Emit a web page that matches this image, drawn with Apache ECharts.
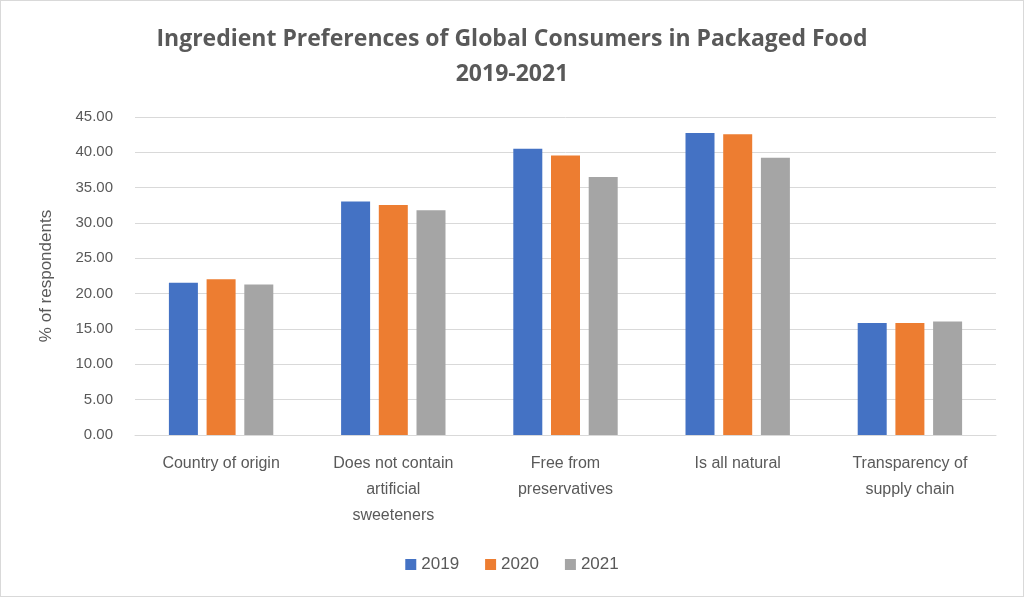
<!DOCTYPE html>
<html><head><meta charset="utf-8">
<script src="https://cdn.jsdelivr.net/npm/echarts@6/dist/echarts.min.js"></script>
<style>html,body{margin:0;padding:0;background:#fff}#c{width:1024px;height:597px;box-sizing:border-box;border:1px solid #d9d9d9}</style>
</head><body><div id="c"></div>
<script>
const categories = ["Country of origin", "Does not contain\nartificial\nsweeteners", "Free from\npreservatives", "Is all natural", "Transparency of\nsupply chain"];
const seriesNames = ["2019", "2020", "2021"];
const values2019 = [21.55, 33.05, 40.5, 42.75, 15.85];
const values2020 = [22.05, 32.55, 39.55, 42.55, 15.85];
const values2021 = [21.3, 31.8, 36.5, 39.25, 16.05];
const colors = ["#4472c4", "#ed7d31", "#a5a5a5"];
const font = "'Liberation Sans Narrow', 'Liberation Sans', sans-serif";
const chart = echarts.init(document.getElementById('c'));
const data = [values2019, values2020, values2021];
chart.setOption({
  animation: false,
  title: {
    text: "Ingredient Preferences of Global Consumers in Packaged Food\n2019-2021",
    left: 'center', top: 16,
    textStyle: {fontFamily: "'Open Sans', sans-serif", fontWeight: 'bold', fontSize: 23, color: '#595959', lineHeight: 35}
  },
  legend: {
    bottom: 18, left: 'center', itemWidth: 11, itemHeight: 11, itemGap: 26,
    icon: 'rect',
    textStyle: {fontFamily: font, fontSize: 17, color: '#595959'},
    data: seriesNames
  },
  grid: {left: 134, right: 27, top: 116, bottom: 161},
  xAxis: {
    type: 'category', data: categories,
    axisTick: {show: false},
    axisLine: {lineStyle: {color: '#d9d9d9', width: 1}},
    axisLabel: {fontFamily: font, fontSize: 16, color: '#595959', lineHeight: 26, margin: 16, interval: 0}
  },
  yAxis: {
    type: 'value', min: 0, max: 45, interval: 5,
    name: '% of respondents', nameLocation: 'middle', nameGap: 80, nameRotate: 90,
    nameTextStyle: {fontFamily: font, fontSize: 17, color: '#595959'},
    axisLabel: {formatter: v => v.toFixed(2), fontFamily: font, fontSize: 15, color: '#595959', margin: 22},
    splitLine: {lineStyle: {color: '#d9d9d9', width: 1}},
    axisLine: {show: false}, axisTick: {show: false}
  },
  series: seriesNames.map((n, i) => ({
    name: n, type: 'bar', data: data[i], barWidth: 29, barGap: '30%',
    itemStyle: {color: colors[i]}
  }))
});
</script></body></html>
